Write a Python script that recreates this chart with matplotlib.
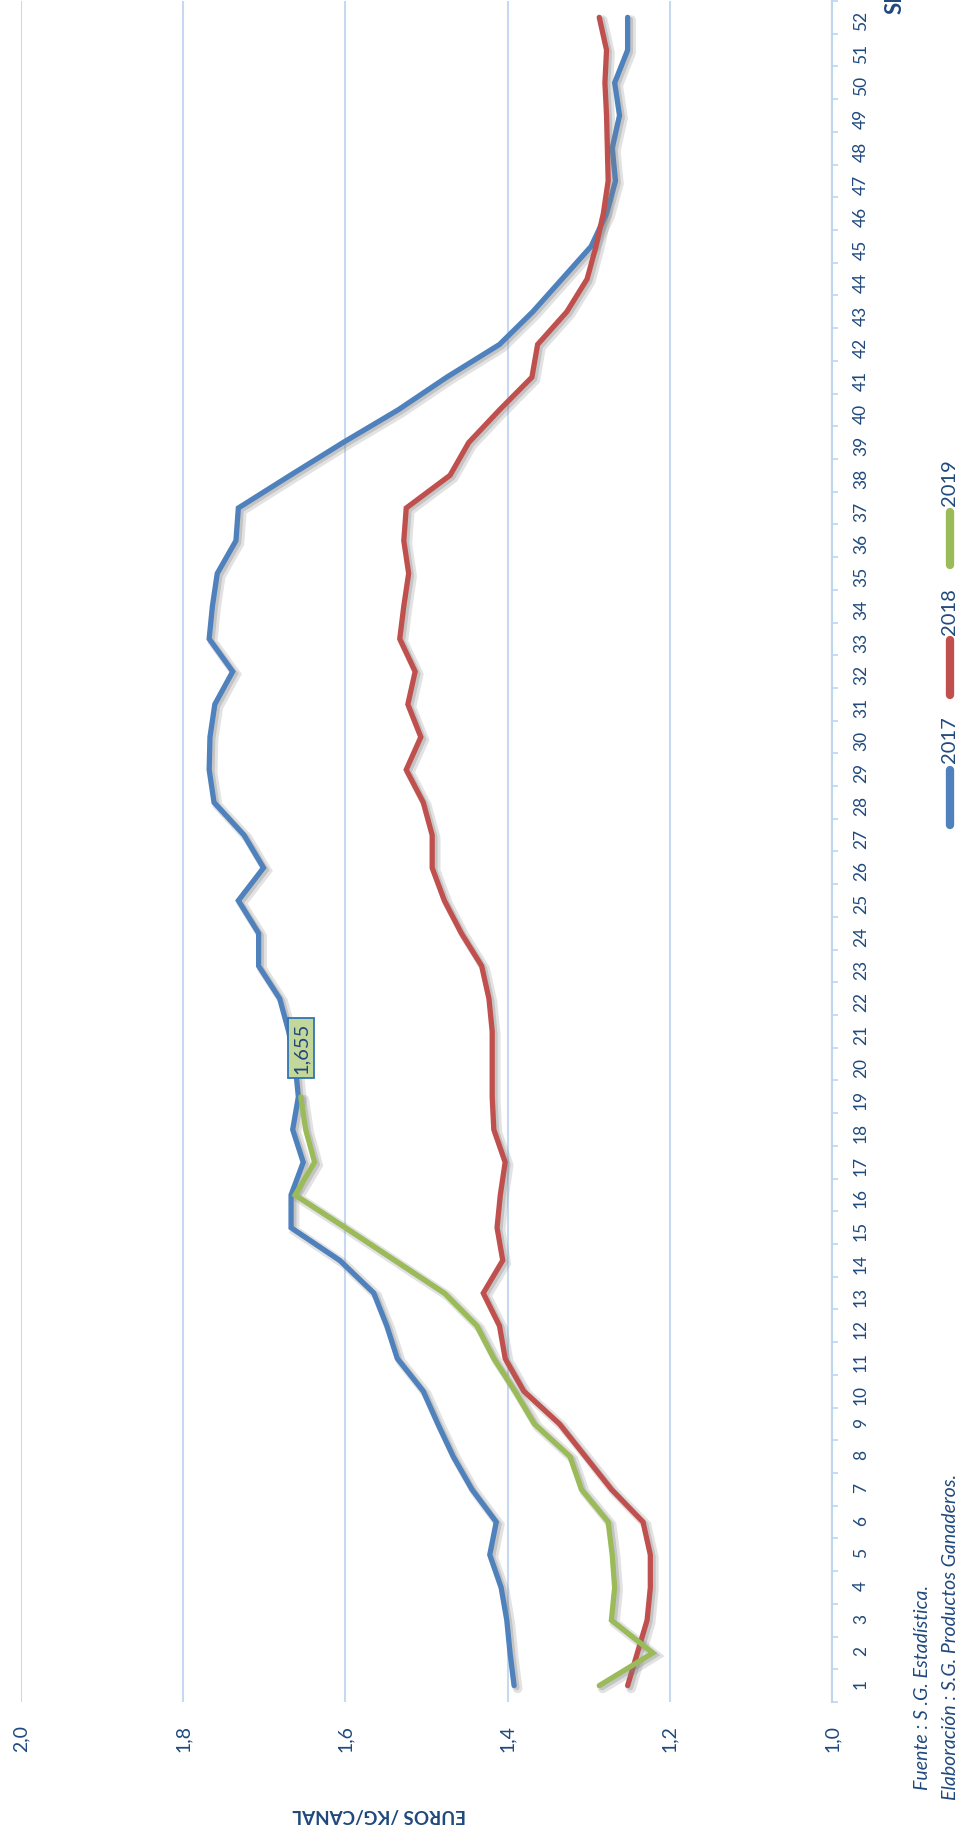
import matplotlib
matplotlib.use("Agg")
import matplotlib.pyplot as plt
import matplotlib.patheffects as pe
from matplotlib.lines import Line2D

# datos: precio semanal (euros/kg canal)
semanas = list(range(1, 53))
precio_2017 = [1.392, 1.397, 1.401, 1.408, 1.422, 1.414, 1.444, 1.467, 1.486, 1.504,
               1.536, 1.549, 1.565, 1.607, 1.667, 1.667, 1.652, 1.665, 1.658, 1.662,
               1.670, 1.681, 1.707, 1.707, 1.732, 1.701, 1.725, 1.762, 1.768, 1.767,
               1.761, 1.739, 1.768, 1.764, 1.758, 1.735, 1.732, 1.668, 1.603, 1.535,
               1.475, 1.410, 1.369, 1.333, 1.297, 1.278, 1.267, 1.271, 1.262, 1.268,
               1.252, 1.252]
precio_2018 = [1.252, 1.240, 1.228, 1.224, 1.224, 1.233, 1.272, 1.304, 1.336, 1.380,
               1.403, 1.410, 1.430, 1.406, 1.413, 1.409, 1.403, 1.417, 1.419, 1.419,
               1.419, 1.423, 1.432, 1.457, 1.478, 1.493, 1.493, 1.504, 1.525, 1.507,
               1.523, 1.514, 1.533, 1.528, 1.522, 1.528, 1.525, 1.471, 1.448, 1.410,
               1.370, 1.363, 1.327, 1.302, 1.291, 1.282, 1.276, 1.277, 1.278, 1.280,
               1.278, 1.287]
precio_2019 = [1.287, 1.221, 1.272, 1.268, 1.271, 1.276, 1.309, 1.323, 1.367, 1.391,
               1.417, 1.438, 1.478, 1.539, 1.600, 1.662, 1.638, 1.649, 1.655]
etiqueta_2019 = "1,655"

valores_eje = [2.0, 1.8, 1.6, 1.4, 1.2, 1.0]
etiquetas_eje = ["2,0", "1,8", "1,6", "1,4", "1,2", "1,0"]
series = ["2017", "2018", "2019"]
colores = ["#4F81BD", "#C0504D", "#9BBB59"]

azul_texto = "#1F497D"
rejilla = "#C6D9F1"
plt.rcParams['font.family'] = ['Lato', 'DejaVu Sans']

W, H = 960, 1836
fig = plt.figure(figsize=(W / 100, H / 100), dpi=100)
# grafico girado: valores en horizontal (2,0 a la izquierda), semanas en vertical
ax = fig.add_axes([21 / W, 1 - 1702 / H, (832 - 21) / W, 1701 / H])
ax.set_xlim(2.0, 1.0)
ax.set_ylim(0.5, 52.5)

sombra = [pe.SimpleLineShadow(offset=(2.5, -2.0), shadow_color="#7F7F7F", alpha=0.22, linewidth=7),
          pe.SimpleLineShadow(offset=(2.0, -1.5), shadow_color="#7F7F7F", alpha=0.3),
          pe.Normal()]
datos = [precio_2017, precio_2018, precio_2019]
for nombre, valores, color in zip(series, datos, colores):
    ax.plot(valores, semanas[:len(valores)], color=color, lw=3.8,
            solid_capstyle="round", solid_joinstyle="miter", path_effects=sombra, zorder=3)

ax.annotate(etiqueta_2019, xy=(precio_2019[-1], len(precio_2019)),
            xytext=(0, 49), textcoords="offset pixels", rotation=90,
            ha="center", va="center", fontsize=14.5, color=azul_texto, zorder=5,
            bbox=dict(boxstyle="square,pad=0.22", fc="#C4D79B", ec="#2E75B6", lw=1.3))

for s in ["top", "left", "bottom"]:
    ax.spines[s].set_visible(False)
ax.spines["right"].set_color("#BDD7EE")
ax.spines["right"].set_linewidth(1.5)

ax.set_xticks(valores_eje)
ax.set_xticklabels(etiquetas_eje, rotation=90, fontsize=14, color=azul_texto)
ax.tick_params(axis="x", length=0, pad=16.5)
ax.grid(axis="x", color=rejilla, lw=1.5)
ax.set_axisbelow(True)

ax.yaxis.tick_right()
ax.set_yticks(semanas)
ax.set_yticklabels([str(s) for s in semanas], rotation=90, fontsize=12.5, color=azul_texto)
ax.set_yticks([s - 0.5 for s in semanas] + [52.5], minor=True)
ax.tick_params(axis="y", which="major", length=0, pad=15)
ax.tick_params(axis="y", which="minor", length=4.5, width=1.2, color="#BDD7EE", direction="out")

# textos
fig.text(379 / W, 1 - 1815 / H, "EUROS /KG/CANAL", rotation=180, ha="center", va="center",
         fontsize=13.5, fontweight="bold", color=azul_texto)
# titulo del eje de semanas, cortado en el borde superior como en el original
fig.text(895 / W, 1 - 14 / H, "SEMANAS", rotation=90, rotation_mode="anchor",
         ha="left", va="center", fontsize=16, fontweight="bold", color=azul_texto)
fig.text(923 / W, 1 - 1790 / H, "Fuente : S .G. Estadística.", rotation=90,
         rotation_mode="anchor", ha="left", va="center", fontsize=14, style="italic",
         color=azul_texto)
fig.text(950 / W, 1 - 1800 / H, "Elaboración : S.G. Productos Ganaderos.", rotation=90,
         rotation_mode="anchor", ha="left", va="center", fontsize=14, style="italic",
         color=azul_texto)

# leyenda manual girada
ley_lineas = [(770, 825), (640, 695), (512, 565)]
ley_textos = [740, 612, 483]
for nombre, color, (y0, y1), yt in zip(series, colores, ley_lineas, ley_textos):
    fig.add_artist(Line2D([950 / W, 950 / W], [1 - y0 / H, 1 - y1 / H], color=color,
                          lw=6, solid_capstyle="round"))
    fig.text(950 / W, 1 - yt / H, nombre, rotation=90, ha="center", va="center",
             fontsize=14.5, color=azul_texto)

fig.savefig("out.png", dpi=100)
